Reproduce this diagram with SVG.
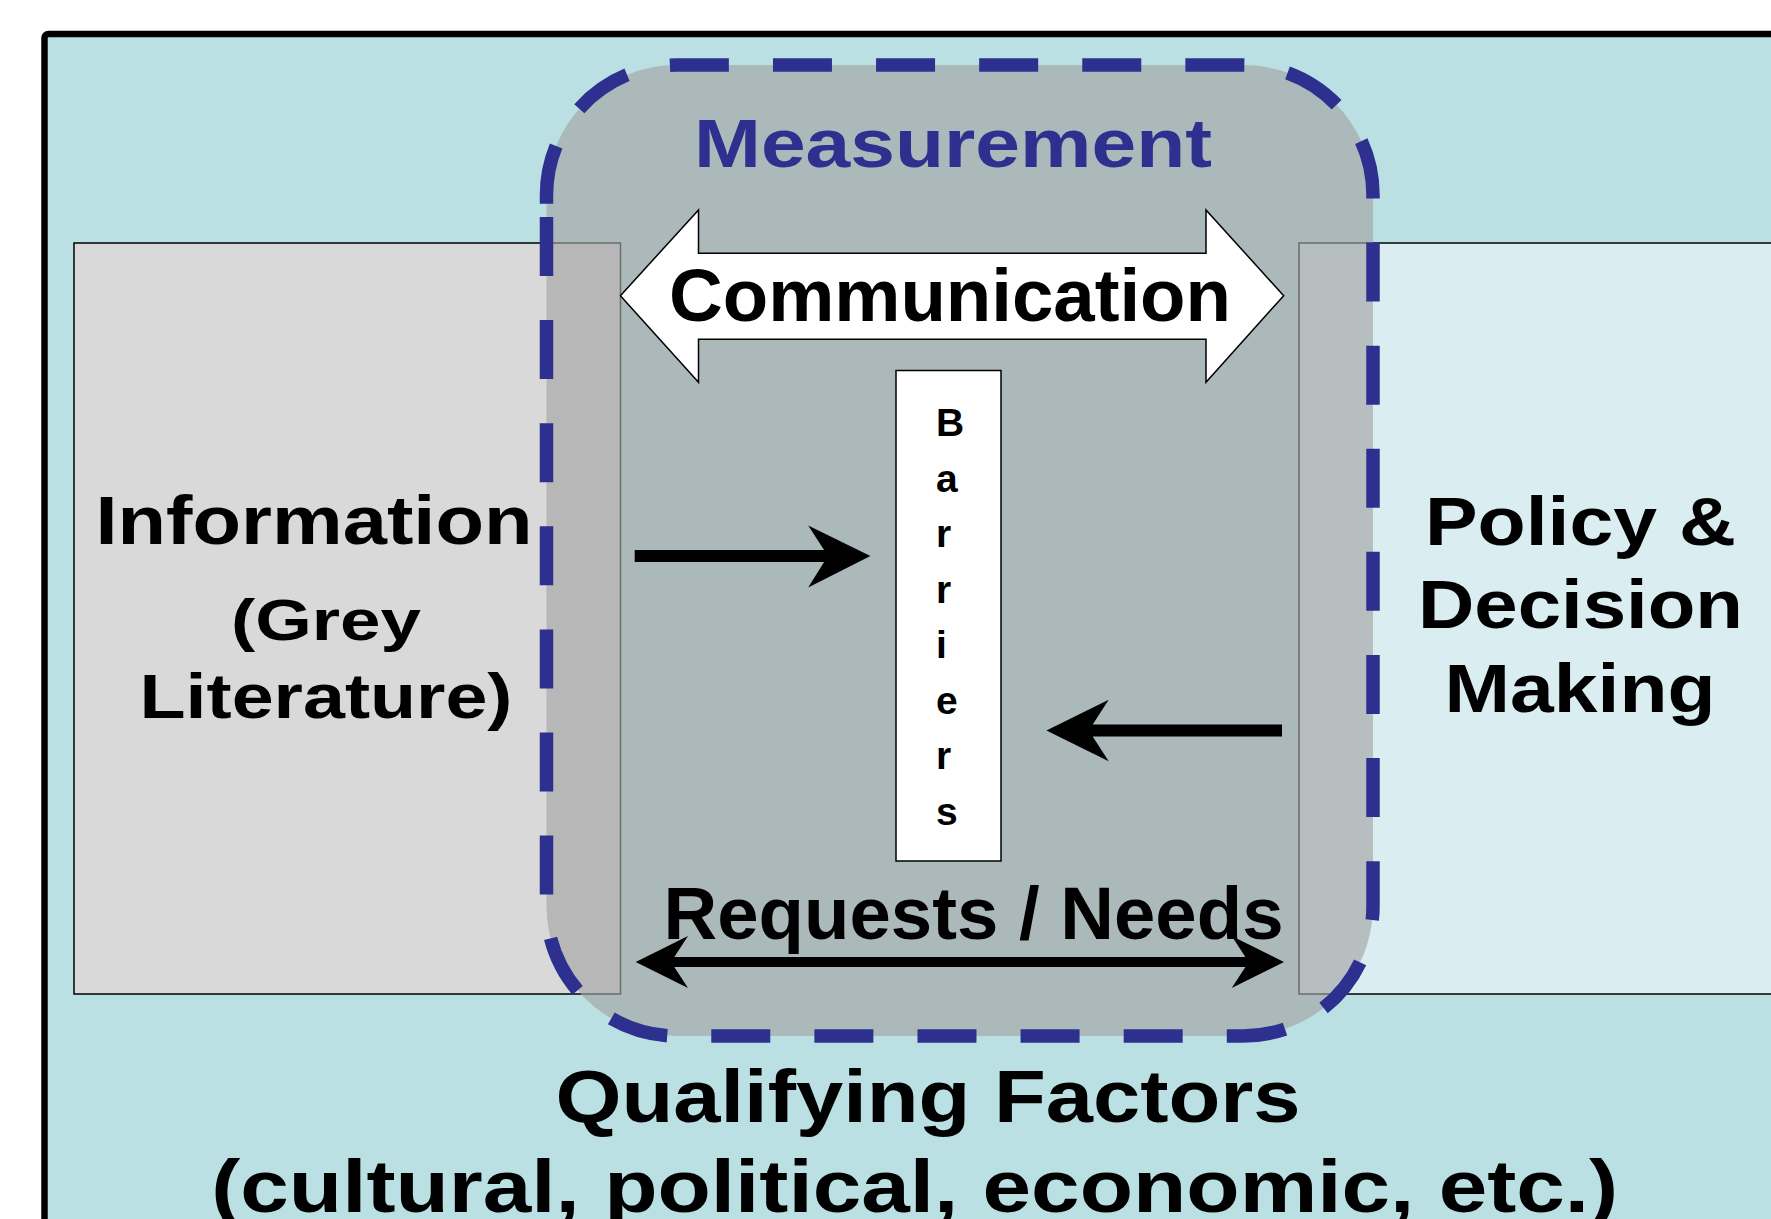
<svg xmlns="http://www.w3.org/2000/svg" width="1771" height="1219" viewBox="0 0 1771 1219">
  <style>
    .t { font-family: "Liberation Sans", Arial, Helvetica, sans-serif; font-weight: bold; fill: #000; }
    .mid { text-anchor: middle; }
    .box { stroke: #000; stroke-width: 1.5; }
    .arrow { fill: #000; stroke: none; }
  </style>
  <defs>
    <path id="mshape" d="M546.5,217 V906 A130,130 0 0 0 676.5,1036 H1243 A130,130 0 0 0 1373,906 V195 A130,130 0 0 0 1243,65 H676.5 A130,130 0 0 0 546.5,195 Z"/>
  </defs>
  <rect id="background" x="44.5" y="34" width="1800" height="1250" rx="4" fill="#BBE0E3" stroke="#000" stroke-width="6.5"/>

  <g id="information">
    <rect class="box" x="74" y="243" width="546.5" height="751" fill="#D9D9D9"/>
    <text class="t mid" x="314" y="544" font-size="69" textLength="437" lengthAdjust="spacingAndGlyphs">Information</text>
    <text class="t mid" x="326" y="640" font-size="58" textLength="190" lengthAdjust="spacingAndGlyphs">(Grey</text>
    <text class="t mid" x="326" y="717.5" font-size="63" textLength="373" lengthAdjust="spacingAndGlyphs">Literature)</text>
  </g>

  <g id="policy">
    <rect class="box" x="1299" y="243" width="560" height="751" fill="#DAEDF0"/>
  </g>

  <g id="measurement">
    <use href="#mshape" fill="#A5A5A5" fill-opacity="0.65"/>
    <use href="#mshape" fill="none" stroke="#2E3090" stroke-width="13.5" stroke-dasharray="59 44.1"/>
    <text class="t mid" x="953" y="167" font-size="69" style="fill:#2E3090" textLength="518" lengthAdjust="spacingAndGlyphs">Measurement</text>
  </g>

  <g id="policy-text">
    <text class="t mid" x="1580.5" y="545" font-size="69" textLength="311" lengthAdjust="spacingAndGlyphs">Policy &amp;</text>
    <text class="t mid" x="1580.5" y="628.3" font-size="69" textLength="325" lengthAdjust="spacingAndGlyphs">Decision</text>
    <text class="t mid" x="1580" y="711.7" font-size="69" textLength="271" lengthAdjust="spacingAndGlyphs">Making</text>
  </g>

  <g id="communication">
    <polygon points="620.4,295.7 698.5,210 698.5,253.3 1206,253.3 1206,210 1283.7,295.7 1206,382.3 1206,339.3 698.5,339.3 698.5,382.3" fill="#FFFFFF" stroke="#000" stroke-width="1.5"/>
    <text class="t mid" x="950" y="321" font-size="75" textLength="562" lengthAdjust="spacingAndGlyphs">Communication</text>
  </g>

  <g id="barriers">
    <rect class="box" x="896" y="370.5" width="105" height="490.5" fill="#FFFFFF"/>
    <text class="t" font-size="39">
      <tspan x="936" y="436">B</tspan>
      <tspan x="936" y="491.5">a</tspan>
      <tspan x="936" y="547">r</tspan>
      <tspan x="936" y="602.5">r</tspan>
      <tspan x="936" y="658">i</tspan>
      <tspan x="936" y="713.5">e</tspan>
      <tspan x="936" y="769">r</tspan>
      <tspan x="936" y="824.5">s</tspan>
    </text>
  </g>

  <g id="connectors">
    <path class="arrow" d="M634.7,550 H824.1 L808.2,525.4 L870.4,556 L808.2,587.5 L824.1,562 H634.7 Z"/>
    <path class="arrow" d="M1282,724.5 H1092.7 L1108.7,699.7 L1046.4,730.5 L1108.7,761.3 L1092.7,736.5 H1282 Z"/>
    <path class="arrow" d="M674.3,957 L688,936 L635.7,962 L688,988 L674.3,967 H1245.4 L1231.7,988 L1284,962 L1231.7,936 L1245.4,957 Z"/>
    <text class="t mid" x="973.5" y="939" font-size="75" textLength="620" lengthAdjust="spacingAndGlyphs">Requests / Needs</text>
  </g>

  <g id="qualifying-factors">
    <text class="t mid" x="928" y="1121.7" font-size="75" textLength="745" lengthAdjust="spacingAndGlyphs">Qualifying Factors</text>
    <text class="t mid" x="914.7" y="1211.7" font-size="74" textLength="1407" lengthAdjust="spacingAndGlyphs">(cultural, political, economic, etc.)</text>
  </g>
</svg>
